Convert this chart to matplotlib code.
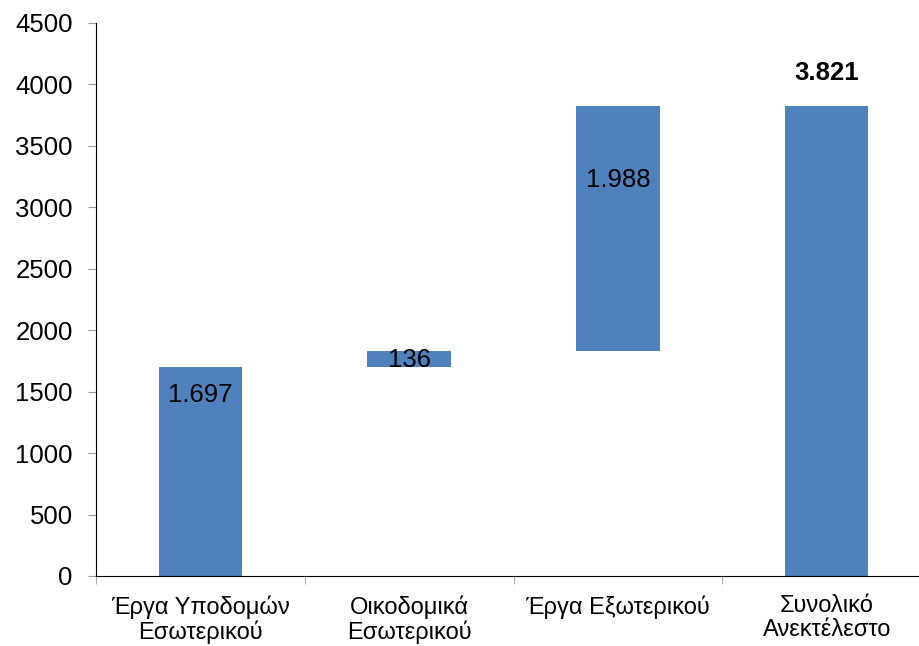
import matplotlib
matplotlib.use("Agg")
import matplotlib.pyplot as plt
import numpy as np

categories = ["Έργα Υποδομών\nΕσωτερικού", "Οικοδομικά\nΕσωτερικού", "Έργα Εξωτερικού", "Συνολικό\nΑνεκτέλεστο"]
values = [1697, 136, 1988]
total = 3821
labels = ["1.697", "136", "1.988", "3.821"]
label_y = [1470, 1757, 3220, 4090]

plt.rcParams['font.family'] = ['Liberation Sans', 'DejaVu Sans']

fig = plt.figure(figsize=(9.19, 6.46), dpi=100)
ax = fig.add_axes([0.1045, 0.1084, 0.9086, 0.856])

color = "#4F81BD"
bottoms = np.concatenate([[0], np.cumsum(values)[:-1]])
x = np.arange(len(categories))
ax.bar(x[:3], values, bottom=bottoms, width=0.40, color=color)
ax.bar(x[3], total, width=0.40, color=color)

for i, (lab, ly) in enumerate(zip(labels, label_y)):
    ax.text(x[i], ly, lab, ha="center", va="center", fontsize=18.5,
            fontweight="bold" if i == 3 else "normal", color="black")

ax.set_xlim(-0.5, 3.5)
ax.set_ylim(0, 4500)
ax.set_yticks(np.arange(0, 4501, 500))
ax.tick_params(axis="y", labelsize=18.5, length=5.8, color="#999999", pad=11)
ax.set_xticks(x)
ax.set_xticklabels(categories, fontsize=17, linespacing=1.08)
ax.tick_params(axis="x", length=0, pad=14)
ax.set_xticks(np.arange(-0.5, 3.6, 1), minor=True)
ax.tick_params(axis="x", which="minor", length=5.8, color="#999999")

for s in ["top", "right"]:
    ax.spines[s].set_visible(False)
ax.spines["left"].set_color("black")
ax.spines["bottom"].set_color("black")

fig.savefig("out.png", dpi=100)
